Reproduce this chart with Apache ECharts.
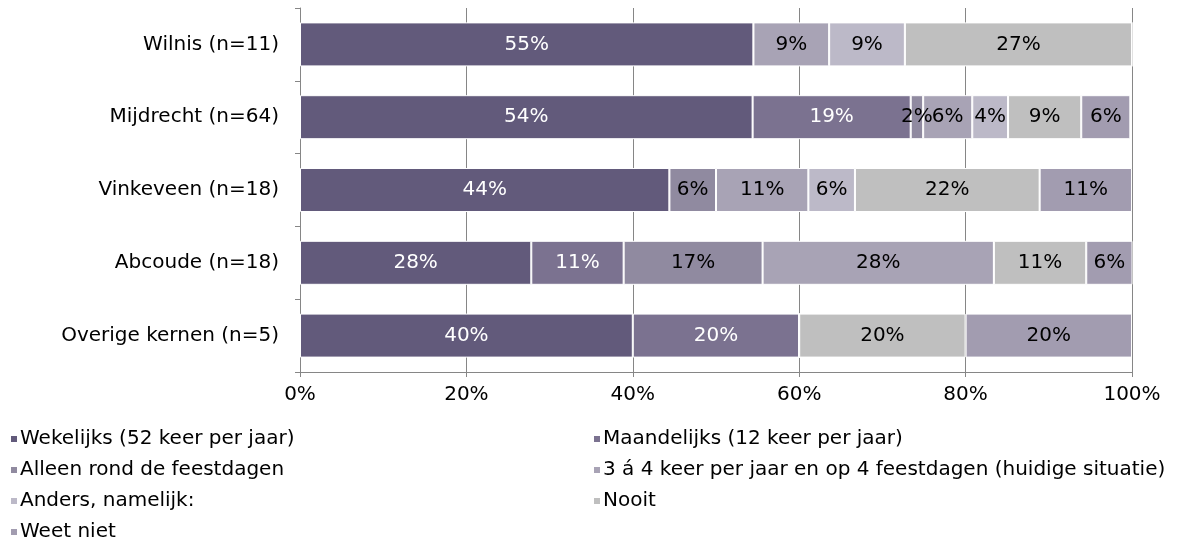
<!DOCTYPE html>
<html>
<head>
<meta charset="utf-8">
<script src="https://cdn.jsdelivr.net/npm/echarts@6/dist/echarts.min.js"></script>
<style>
  html, body { margin: 0; padding: 0; background: #fff; }
  #chart { width: 1199px; height: 556px; }
</style>
</head>
<body>
<div id="chart"></div>
<script>
const categories = ['Wilnis (n=11)', 'Mijdrecht (n=64)', 'Vinkeveen (n=18)', 'Abcoude (n=18)', 'Overige kernen (n=5)']

const seriesNames = [
  'Wekelijks (52 keer per jaar)',
  'Maandelijks (12 keer per jaar)',
  'Alleen rond de feestdagen',
  '3 á 4 keer per jaar en op 4 feestdagen (huidige situatie)',
  'Anders, namelijk:',
  'Nooit',
  'Weet niet'
]

// percentages per kern, in category order
const wekelijks   = [54.5, 54.4, 44.4, 27.8, 40]
const maandelijks = [0, 19.0, 0, 11.1, 20]
const feestdagen  = [0, 1.5, 5.6, 16.7, 0]
const huidig      = [9.1, 5.9, 11.1, 27.8, 0]
const anders      = [9.1, 4.3, 5.6, 0, 0]
const nooit       = [27.3, 8.8, 22.2, 11.1, 20]
const weetNiet    = [0, 5.9, 11.1, 5.6, 20]

const xTicks = [0, 20, 40, 60, 80, 100]

const colors = ['#625a7b', '#7b7290', '#908aa0', '#a8a3b5', '#bcb9c8', '#bfbfbf', '#a29cb0']
const labelColors = ['#fff', '#fff', '#000', '#000', '#000', '#000', '#000']
const values = [wekelijks, maandelijks, feestdagen, huidig, anders, nooit, weetNiet]

const font = '"DejaVu Sans", Verdana, sans-serif'
const axisGray = '#868686'

const chart = echarts.init(document.getElementById('chart'))

const series = seriesNames.map((name, i) => ({
  name, type: 'bar', stack: 'total', data: values[i],
  barWidth: 44,
  itemStyle: { color: colors[i], borderColor: '#fff', borderWidth: 1 },
  label: {
    show: true, position: 'inside', color: labelColors[i], fontSize: 20, fontFamily: font,
    formatter: p => p.value > 0 ? Math.round(p.value) + '%' : ''
  }
}))

const legendBase = {
  orient: 'vertical', icon: 'rect', itemWidth: 8, itemHeight: 8, itemGap: 11, padding: 0,
  textStyle: { fontSize: 20, color: '#000', fontFamily: font, padding: [0, 0, 0, -3] },
  selectedMode: false
}

chart.setOption({
  animation: false,
  grid: { left: 300, right: 67, top: 8, bottom: 184 },
  legend: [
    Object.assign({}, legendBase, { left: 9, top: 429, data: [seriesNames[0], seriesNames[2], seriesNames[4], seriesNames[6]] }),
    Object.assign({}, legendBase, { left: 592, top: 429, data: [seriesNames[1], seriesNames[3], seriesNames[5]] })
  ],
  xAxis: {
    type: 'value', min: xTicks[0], max: xTicks[xTicks.length - 1], interval: 20,
    axisLine: { show: true, lineStyle: { color: axisGray, width: 1 } },
    axisTick: { show: true, length: 5, lineStyle: { color: axisGray } },
    splitLine: { show: true, lineStyle: { color: axisGray, width: 1 } },
    axisLabel: { formatter: '{value}%', color: '#000', fontSize: 20, fontFamily: font, margin: 13 }
  },
  yAxis: {
    type: 'category', data: categories, inverse: true,
    axisLine: { show: true, lineStyle: { color: axisGray, width: 1 } },
    axisTick: { show: true, length: 5, lineStyle: { color: axisGray } },
    axisLabel: { color: '#000', fontSize: 20, fontFamily: font, margin: 21 }
  },
  series
})
</script>
</body>
</html>
